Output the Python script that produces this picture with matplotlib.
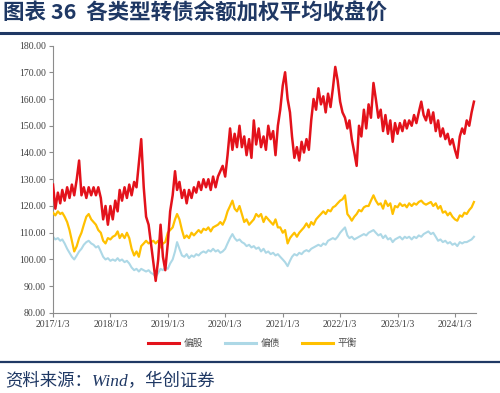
import matplotlib
matplotlib.use("Agg")
import matplotlib.pyplot as plt
from matplotlib.lines import Line2D
import pandas as pd

plt.rcParams['font.family'] = ['Liberation Serif', 'Noto Sans CJK SC', 'DejaVu Sans']

# ---- data (semi-monthly readings: 3rd and 18th of each month, 2017-01 .. 2024-05) ----
dates = []
for y in range(2017, 2025):
    for m in range(1, 13):
        for d in (3, 18):
            dt = pd.Timestamp(year=y, month=m, day=d)
            if dt <= pd.Timestamp('2024-05-03'):
                dates.append(dt)

equity_like = [  # 偏股
    128, 119, 125, 121, 126, 122, 127, 123, 128, 124,
    130, 137, 124, 127, 123, 127, 124, 127, 124, 127,
    123, 115, 120, 113, 120, 115, 122, 118, 126, 122,
    127, 123, 128, 124, 129, 127, 136, 145, 127, 116,
    113, 106, 99, 92, 100, 113, 101, 96, 106, 118,
    124, 133, 126, 129, 123, 126, 121, 126, 123, 127,
    125, 129, 126, 130, 127, 130, 126, 131, 127, 131,
    133, 135, 131, 139, 149, 141, 147, 142, 150, 142,
    146, 139, 145, 138, 152, 143, 149, 142, 146, 141,
    150, 145, 148, 139, 150, 156, 165, 170, 160, 155,
    146, 138, 142, 137, 144, 140, 145, 141, 152, 160,
    156, 164, 158, 161, 155, 162, 157, 164, 172, 167,
    159, 155, 153, 149, 152, 145, 140, 135, 150, 146,
    156, 149, 158, 153, 166, 160, 153, 156, 148, 154,
    147, 152, 144, 151, 147, 151, 148, 152, 149, 152,
    150, 154, 151, 155, 159, 154, 152, 156, 151, 155,
    148, 152, 146, 149, 145, 147, 143, 145, 141, 138,
    146, 149, 147, 152, 150, 155, 159,
]

bond_like = [  # 偏债
    108.5, 107.5, 108, 107, 107.5, 106, 104, 102.5, 101, 100,
    101.5, 103, 104, 105.5, 106.5, 107, 106, 105.5, 104.5, 105,
    103, 101, 100, 100.5, 99.5, 100, 99.5, 100.5, 99.5, 100,
    99, 99.5, 98.5, 97, 96, 96.5, 95.5, 96.5, 96, 95.5,
    96, 95, 94.5, 93.5, 95, 96.5, 96, 97, 96.5, 98.5,
    100, 103, 106.5, 104, 101.5, 101, 102, 100.5, 101.5, 101,
    102, 101.5, 102.5, 103, 102.5, 103.5, 103, 104, 103, 103.5,
    102.5, 103, 104, 106, 108, 109.5, 108, 107, 107.5, 106.5,
    106, 105, 105.5, 104.5, 105, 104, 104.5, 103, 104, 102.5,
    103, 102, 102.5, 101.5, 102, 101, 100, 99, 97.5, 99.5,
    101, 102, 101.5, 102.5, 102, 103, 103.5, 103, 104, 104.5,
    105, 105.5, 105, 106, 105.5, 107, 107.5, 108, 107.5, 108.5,
    110, 111, 112, 109, 108, 108.5, 107.5, 108, 108.5, 109,
    109.5, 109, 110, 110.5, 111, 110, 109, 109.5, 108, 109,
    107.5, 108, 106.5, 107.5, 108, 108.5, 107.5, 108.5, 108, 108.5,
    107.5, 108.5, 108, 109, 108.5, 109.5, 110, 110.5, 109.5, 110,
    108.5, 107, 107.5, 106.5, 107, 106, 106.5, 105.5, 106, 105,
    106.5, 106, 106.5, 106.5, 107, 107.5, 108.5,
]

balanced = [  # 平衡
    117.5, 116.5, 118, 117, 117.5, 116, 114, 111, 107, 103,
    105, 108, 110, 113, 116, 117, 115, 114, 113, 111,
    110, 107, 106, 108, 107.5, 108.5, 109, 110.5, 108, 109.5,
    108, 110, 108, 104, 101.5, 103, 101, 105, 106, 107,
    106, 106.5, 107, 106, 107, 104.5, 106, 106.5, 110, 111,
    112, 115, 117, 115, 111, 108, 109, 108, 110, 109,
    110, 111, 110, 111.5, 111, 112, 110.5, 112, 112.5, 113,
    114, 113, 115, 118, 120, 122, 119, 118, 120, 117,
    114, 115, 113, 114, 115, 117, 116, 117, 114, 116,
    115, 114, 113, 115, 112, 112, 110, 111, 106, 108,
    109, 110, 108.5, 110, 111, 112, 113.5, 112, 114, 113,
    115, 116, 117, 118, 117, 118.5, 118, 119.5, 120, 121,
    122, 122.5, 124, 117, 116, 114.5, 116, 117, 118.5, 118,
    119.5, 120, 120, 122, 124, 122, 120.5, 121, 119, 122,
    120, 121, 117, 120, 119.5, 121, 120, 120.5, 119.5, 121,
    120, 121, 120.5, 121.5, 122, 121, 120.5, 121, 121.5, 120,
    121, 119, 120, 117.5, 118, 116.5, 117.5, 116, 115, 114.5,
    116.5, 116, 117.5, 117, 118.5, 119.5, 121.5,
]

series_names = ['偏股', '偏债', '平衡']
series_colors = ['#E3121B', '#ADD8E6', '#FFC000']

y_ticks = [80, 90, 100, 110, 120, 130, 140, 150, 160, 170, 180]
x_tick_dates = [pd.Timestamp(f'{y}-01-03') for y in range(2017, 2025)]
x_tick_labels = [f'{y}/1/3' for y in range(2017, 2025)]

title_text = '图表 36  各类型转债余额加权平均收盘价'
source_text = '资料来源：Wind，华创证券'

# ---- figure ----
fig = plt.figure(figsize=(5.0, 3.93), dpi=100)
ax = fig.add_axes([0.106, 0.2036, 0.846, 0.6806])

navy = '#1F3864'
l_eq, = ax.plot(dates, equity_like, color=series_colors[0], lw=1.8, zorder=4)
l_bd, = ax.plot(dates, bond_like, color=series_colors[1], lw=1.5, zorder=2)
l_bl, = ax.plot(dates, balanced, color=series_colors[2], lw=1.6, zorder=3)

ax.set_ylim(80, 180)
ax.set_yticks(y_ticks)
ax.set_yticklabels([f'{v:.2f}' for v in y_ticks])
ax.set_xlim(pd.Timestamp('2017-01-03'), pd.Timestamp('2024-05-16'))
ax.set_xticks(x_tick_dates)
ax.set_xticklabels(x_tick_labels)

for s in ['top', 'right']:
    ax.spines[s].set_visible(False)
for s in ['left', 'bottom']:
    ax.spines[s].set_color('#8C8C8C')
    ax.spines[s].set_linewidth(0.8)
ax.tick_params(axis='both', direction='out', length=3, width=0.8, color='#8C8C8C',
               labelsize=7, labelcolor='#404040', pad=2)

leg = fig.legend([l_eq, l_bd, l_bl], series_names, loc='center', bbox_to_anchor=(0.505, 0.127),
                 ncol=3, frameon=False, handlelength=3.2, columnspacing=2.2,
                 handletextpad=0.5, prop={'family': ['Noto Sans CJK SC'], 'size': 7})
for t in leg.get_texts():
    t.set_color('#505050')
for h in leg.get_lines():
    h.set_linewidth(2.2)

fig.text(0.006, 0.968, title_text, fontsize=15.5, fontweight='bold', color=navy,
         family=['Noto Sans CJK SC'], va='center', ha='left')
fig.add_artist(Line2D([0, 1], [0.917, 0.917], transform=fig.transFigure, color=navy, lw=2.2))
fig.add_artist(Line2D([0, 1], [0.080, 0.080], transform=fig.transFigure, color=navy, lw=1.6))
fig.text(0.01, 0.030, source_text, fontsize=12.5, style='italic', color=navy,
         family=['Liberation Serif', 'Noto Sans CJK SC'], va='center', ha='left')

fig.savefig('out.png', dpi=100)
